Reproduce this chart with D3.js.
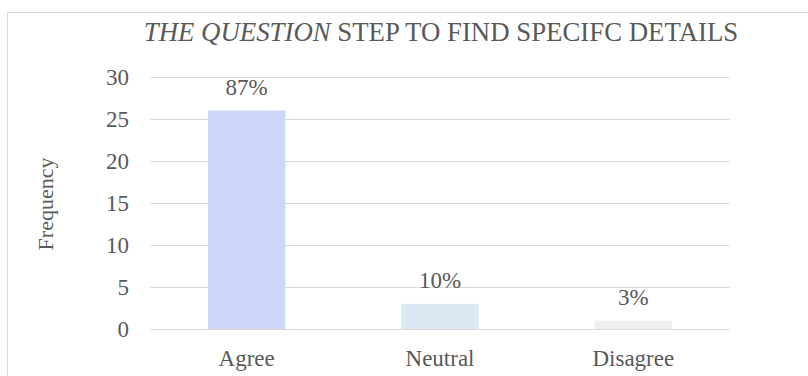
<!DOCTYPE html>
<html>
<head>
<meta charset="utf-8">
<script src="https://cdn.jsdelivr.net/npm/d3@7"></script>
<style>
  html, body { margin: 0; padding: 0; background: #fff; }
  svg text { font-family: "Liberation Serif", "Times New Roman", serif; fill: #595959; }
</style>
</head>
<body>
<svg id="chart" width="808" height="376"></svg>
<script>
// Survey responses
const categories = ["Agree", "Neutral", "Disagree"];
const frequencies = [26, 3, 1];
const percentLabels = ["87%", "10%", "3%"];
const barColors = ["#cdd5f8", "#dce8f4", "#efefef"];
const yTicks = [0, 5, 10, 15, 20, 25, 30];

const svg = d3.select("#chart");
const W = 808, H = 376;
const plot = { left: 150, right: 730, top: 77, bottom: 329 };
const labelSize = "23px";

// Outer frame
svg.append("rect")
  .attr("x", 7.5).attr("y", 12.5)
  .attr("width", W + 10).attr("height", H + 10)
  .attr("fill", "#fff").attr("stroke", "#d9d9d9").attr("stroke-width", 1);

const x = d3.scaleBand()
  .domain(categories)
  .range([plot.left, plot.right])
  .paddingInner(0.6)
  .paddingOuter(0.3);

const y = d3.scaleLinear()
  .domain([0, 30])
  .range([plot.bottom, plot.top]);

// Gridlines
svg.append("g")
  .attr("transform", `translate(${plot.left},0)`)
  .call(d3.axisLeft(y).tickValues(yTicks).tickSize(-(plot.right - plot.left)).tickFormat(""))
  .call(g => g.select(".domain").remove())
  .call(g => g.selectAll("line").attr("stroke", "#d9d9d9").attr("stroke-width", 1.2));

// Y tick labels
svg.append("g")
  .attr("transform", `translate(${plot.left - 21},0)`)
  .call(d3.axisLeft(y).tickValues(yTicks).tickSize(0).tickPadding(0))
  .call(g => g.select(".domain").remove())
  .call(g => g.selectAll("text")
    .style("font-family", '"Liberation Serif", serif')
    .style("font-size", labelSize)
    .attr("fill", "#595959"));

// Bars
svg.append("g").selectAll("rect")
  .data(categories)
  .join("rect")
  .attr("x", d => x(d))
  .attr("width", x.bandwidth())
  .attr("y", (d, i) => y(frequencies[i]))
  .attr("height", (d, i) => y(0) - y(frequencies[i]))
  .attr("fill", (d, i) => barColors[i]);

// Value labels
svg.append("g").selectAll("text")
  .data(categories)
  .join("text")
  .attr("x", d => x(d) + x.bandwidth() / 2)
  .attr("y", (d, i) => y(frequencies[i]) - 16)
  .attr("text-anchor", "middle")
  .style("font-size", labelSize)
  .text((d, i) => percentLabels[i]);

// X axis labels
svg.append("g")
  .attr("transform", `translate(0,${plot.bottom})`)
  .call(d3.axisBottom(x).tickSize(0).tickPadding(0))
  .call(g => g.select(".domain").remove())
  .call(g => g.selectAll("text")
    .attr("dy", null)
    .attr("y", 37)
    .style("font-family", '"Liberation Serif", serif')
    .style("font-size", labelSize)
    .attr("fill", "#595959"));

// Y axis title
svg.append("text")
  .attr("transform", `translate(53,${(plot.top + plot.bottom) / 2 + 1}) rotate(-90)`)
  .attr("text-anchor", "middle")
  .style("font-size", "22px")
  .text("Frequency");

// Chart title
const title = svg.append("text")
  .attr("x", 441).attr("y", 41)
  .attr("text-anchor", "middle")
  .style("font-size", "26.8px");
title.append("tspan").attr("font-style", "italic").text("THE QUESTION");
title.append("tspan").text(" STEP TO FIND SPECIFC DETAILS");
</script>
</body>
</html>
